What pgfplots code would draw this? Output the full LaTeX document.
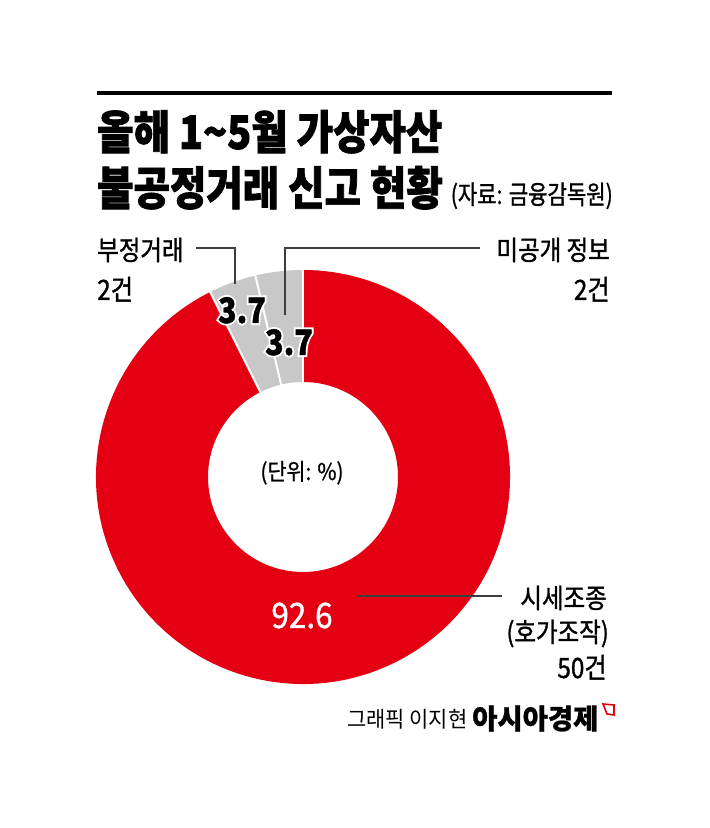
\documentclass[border=0pt]{standalone}
\usepackage{pgfplots}
\pgfplotsset{compat=1.18}
\usepackage{pgfplotstable}
\usepackage{fontspec}
\setmainfont{Noto Sans CJK KR}
\newfontfamily\fT[FakeStretch=0.86,FakeBold=1.6]{Noto Sans CJK KR}
\newfontfamily\fL[FakeStretch=0.87,FakeBold=1.2]{Noto Sans CJK KR}
\newfontfamily\fS[FakeStretch=0.81,FakeBold=1]{Noto Sans CJK KR}
\newfontfamily\fH[FakeStretch=0.87,FakeBold=12]{Noto Sans CJK KR}
\newfontfamily\fN[FakeStretch=0.9,FakeBold=1]{Noto Sans CJK KR}
\newfontfamily\fF[FakeStretch=0.95]{Noto Sans CJK KR}
\newfontfamily\fB[FakeStretch=0.98,FakeBold=0.8]{Noto Sans CJK KR}
\definecolor{ared}{RGB}{228,0,18}
\definecolor{agray}{RGB}{200,200,200}
\definecolor{aline}{RGB}{60,60,60}

\pgfplotstableread{
name value
manip 92.6
undisclosed 3.7
unfair 3.7
}\shares
\pgfplotstablegetelem{0}{value}\of\shares \let\vA\pgfplotsretval
\pgfplotstablegetelem{1}{value}\of\shares \let\vB\pgfplotsretval
\pgfplotstablegetelem{2}{value}\of\shares \let\vC\pgfplotsretval
\pgfmathsetmacro\aB{90+3.6*\vB}
\pgfmathsetmacro\aC{\aB+3.6*\vC}
\pgfmathsetmacro\aA{\aC+3.6*\vA}
\def\cx{303}\def\cy{351}\def\Ro{207}\def\Ri{95}
\newcommand\seg[3]{\fill[#1] (axis cs:{\cx+\Ro*cos(#2)},{\cy+\Ro*sin(#2)}) arc[start angle=#2,end angle=#3,radius=\Ro pt] -- (axis cs:{\cx+\Ri*cos(#3)},{\cy+\Ri*sin(#3)}) arc[start angle=#3,end angle=#2,radius=\Ri pt] -- cycle;}
\newcommand\sep[1]{\draw[white,line width=2pt] (axis cs:{\cx+(\Ri-1)*cos(#1)},{\cy+(\Ri-1)*sin(#1)}) -- (axis cs:{\cx+(\Ro+1)*cos(#1)},{\cy+(\Ro+1)*sin(#1)});}
\newcommand\halo[3]{%
 \node[white,anchor=base,inner sep=0,font=\fH\bfseries\fontsize{35}{35}\selectfont] at (axis cs:#1,#2) {#3};
 \node[black,anchor=base,inner sep=0,font=\fL\bfseries\fontsize{35}{35}\selectfont] at (axis cs:#1,#2) {#3};}

\begin{document}%
\begin{tikzpicture}
\begin{axis}[width=710pt,height=828pt,scale only axis,xmin=0,xmax=710,ymin=0,ymax=828,hide axis,clip=false]
\fill[white] (axis cs:0,0) rectangle (axis cs:710,828);
% donut
\seg{ared}{\aC}{\aA}
\seg{agray}{90}{\aB}
\seg{agray}{\aB}{\aC}
\sep{90}\sep{\aB}\sep{\aC}
% top rule and title
\draw[black,line width=4pt] (axis cs:97,735) -- (axis cs:612,735);
\node[anchor=base west,inner sep=0,font=\fT\bfseries\fontsize{46}{46}\selectfont] at (axis cs:97,679) {올해 1\textasciitilde5월 가상자산};
\node[anchor=base west,inner sep=0,font=\fT\bfseries\fontsize{46}{46}\selectfont] at (axis cs:97,623) {불공정거래 신고 현황};
\node[anchor=base east,inner sep=0,font=\fS\fontsize{26}{26}\selectfont] at (axis cs:613,624) {(자료: 금융감독원)};
% labels
\node[anchor=base west,inner sep=0,font=\fL\fontsize{27}{27}\selectfont] at (axis cs:97,568) {부정거래};
\node[anchor=base west,inner sep=0,font=\fL\fontsize{28}{28}\selectfont] at (axis cs:97,528) {2건};
\node[anchor=base east,inner sep=0,font=\fL\fontsize{27}{27}\selectfont] at (axis cs:610,568) {미공개 정보};
\node[anchor=base east,inner sep=0,font=\fL\fontsize{28}{28}\selectfont] at (axis cs:610,528) {2건};
\draw[aline,line width=1.1pt] (axis cs:196,580) -- (axis cs:235,580) -- (axis cs:235,544);
\draw[aline,line width=1.1pt] (axis cs:480,580) -- (axis cs:285,580) -- (axis cs:285,513);
\halo{242}{505}{3.7}
\halo{289}{473}{3.7}
\node[anchor=base,inner sep=0,font=\fN\fontsize{23}{23}\selectfont] at (axis cs:302,348) {(단위: \%)};
\node[anchor=base,inner sep=0,text=white,font=\fN\fontsize{35}{35}\selectfont] at (axis cs:302,200) {92.6};
\node[anchor=base east,inner sep=0,font=\fL\fontsize{27}{27}\selectfont] at (axis cs:607,220) {시세조종};
\node[anchor=base east,inner sep=0,font=\fL\fontsize{27}{27}\selectfont] at (axis cs:609,186) {(호가조작)};
\node[anchor=base east,inner sep=0,font=\fL\fontsize{28}{28}\selectfont] at (axis cs:607,150) {50건};
\draw[aline,line width=1.1pt] (axis cs:357,232) -- (axis cs:502,232);
% footer
\node[anchor=base west,inner sep=0,font=\fF\fontsize{22}{22}\selectfont] at (axis cs:347,100) {그래픽 이지현};
\node[anchor=base west,inner sep=0,font=\fB\bfseries\fontsize{28}{28}\selectfont] at (axis cs:472,99) {아시아경제};
\draw[ared,line width=1.6pt] (axis cs:603,124) -- (axis cs:614,123) -- (axis cs:614,113) -- (axis cs:607,114) -- cycle;
\end{axis}
\end{tikzpicture}%
\end{document}
